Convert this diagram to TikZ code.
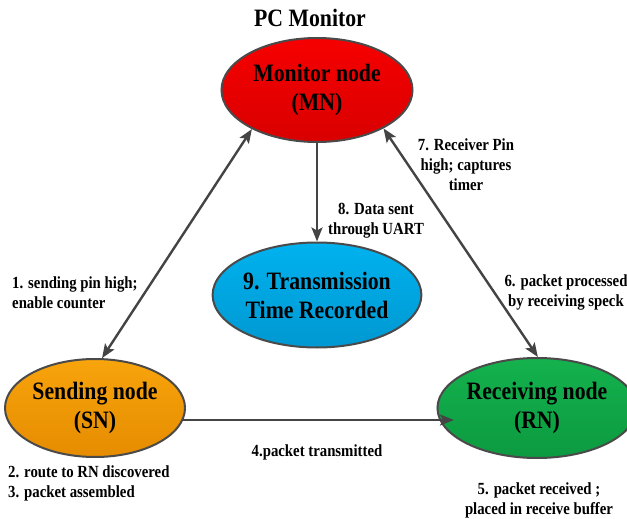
\documentclass[tikz,border=0pt]{standalone}
\usepackage{fontspec}
\setmainfont{Liberation Serif}[FakeStretch=0.87]
\usetikzlibrary{shapes.geometric,arrows.meta,calc}

\definecolor{rimgray}{HTML}{4A4A4A}
\definecolor{wiregray}{HTML}{444444}
\definecolor{redtop}{HTML}{F60000}
\definecolor{redbot}{HTML}{D90000}
\definecolor{bluetop}{HTML}{00B2EE}
\definecolor{bluebot}{HTML}{0098D2}
\definecolor{orangetop}{HTML}{F8A40C}
\definecolor{orangebot}{HTML}{E58C00}
\definecolor{greentop}{HTML}{14B24E}
\definecolor{greenbot}{HTML}{0C9A40}

\begin{document}
\begin{tikzpicture}[x=1pt,y=-1pt,
  state/.style={ellipse,draw=rimgray,line width=2pt,inner sep=0pt,
    font=\fontsize{25}{29}\selectfont\bfseries,align=center},
  tip/.tip={Stealth[length=14pt,width=11pt,inset=3pt]},
  link/.style={draw=wiregray,line width=2.4pt,-tip},
  twoway/.style={draw=wiregray,line width=2.4pt,tip-tip},
  note/.style={font=\fontsize{17}{20}\selectfont\bfseries,inner sep=0pt}
]
\useasboundingbox (0,0) rectangle (627,519);

% title
\node[font=\fontsize{25}{28}\selectfont\bfseries,inner sep=0pt] (title) at (310,18) {PC Monitor};

% the four nodes of the set-up
\node[state,minimum width=191pt,minimum height=104pt,
      top color=redtop,bottom color=redbot] (MN) at (317,90) {Monitor node\\(MN)};
\node[state,minimum width=191pt,minimum height=105pt,
      top color=bluetop,bottom color=bluebot] (TR) at (317,295) {9. Transmission\\Time Recorded};
\node[state,minimum width=180pt,minimum height=98pt,
      top color=orangetop,bottom color=orangebot] (SN) at (95,408) {Sending node\\(SN)};
\node[state,minimum width=170pt,minimum height=100pt,
      top color=greentop,bottom color=greenbot] (RN) at (537,408) {Receiving node\\(RN)};

% connectors
\draw[twoway] (SN.82) -- (MN.211.5);
\draw[twoway] (RN.89) -- (MN.330);
\draw[link] (MN.south) -- (TR.north);
\draw[link] ($(SN.center)+(87.6,12)$) -- ($(RN.center)+(-83,12)$);

% step labels
\node[note,anchor=west,align=left] (s1) at (12,292.5) {1. sending pin high;\\enable counter};
\node[note,anchor=west,align=left] (s23) at (8,483) {2. route to RN discovered\\3. packet assembled};
\node[note] (s4) at (317,452) {4.packet transmitted};
\node[note,align=center] (s5) at (539,500.5) {5. packet received ;\\placed in receive buffer};
\node[note,align=center] (s6) at (566,292.5) {6. packet processed\\by receiving speck};
\node[note,align=center] (s7) at (466,165) {7. Receiver Pin\\high; captures\\timer};
\node[note,align=center] (s8) at (376,221) {8. Data sent\\through UART};
\end{tikzpicture}
\end{document}
